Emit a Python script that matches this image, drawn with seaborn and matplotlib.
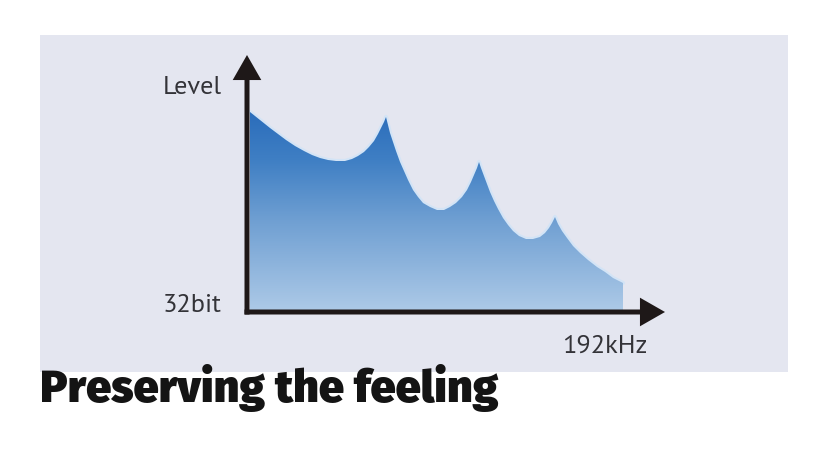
import numpy as np
import pandas as pd
import matplotlib
matplotlib.use("Agg")
import matplotlib.pyplot as plt
import seaborn as sns
from matplotlib.patches import Polygon, Rectangle
from matplotlib.colors import LinearSegmentedColormap

# ---- data (frequency position, level) ----
freq = [3, 8, 13, 18, 23, 31, 39, 48, 57, 65, 73, 81, 89, 98, 105, 111, 117, 122, 127, 131, 134, 137, 139,
        141, 143, 146, 149, 153, 157, 161, 166, 171, 176, 183, 190, 197, 203, 209, 215, 220, 224, 227, 230, 232,
        234, 237, 240, 243, 247, 251, 256, 261, 266, 272, 279, 286, 293, 298, 302, 305, 308,
        311, 315, 320, 326, 333, 341, 350, 358, 366, 376]
level = [198, 194, 190, 186, 182, 176, 170, 164, 159, 155, 152, 150, 149, 149, 151, 154, 158, 163, 169, 176, 182, 188, 193,
         185, 177, 168, 159, 148, 139, 130, 120, 113, 107, 103, 100, 100, 103, 107, 113, 120, 128, 135, 142, 148,
         142, 134, 126, 118, 109, 101, 92, 85, 79, 74, 71, 71, 73, 77, 82, 87, 93,
         86, 79, 72, 64, 57, 50, 43, 38, 32, 27]
y_label_top = "Level"
y_label_bottom = "32bit"
x_label_end = "192kHz"
title = "Preserving the feeling"

df = pd.DataFrame({"freq": freq, "level": level})

sns.set_theme(style="white")
plt.rcParams["font.family"] = ["PT Sans", "DejaVu Sans"]

fig = plt.figure(figsize=(8.28, 4.54), dpi=100)
fig.patch.set_facecolor("white")

# panel background
fig.patches.append(Rectangle((40 / 828, (454 - 372) / 454), 748 / 828, 337 / 454,
                             transform=fig.transFigure, facecolor="#e4e6f0",
                             edgecolor="none", zorder=-5))

ax = fig.add_axes([0, 0, 1, 1])
ax.set_facecolor("none")
ax.patch.set_alpha(0)
ax.axis("off")

# filled area with vertical gradient
xs = df["freq"].to_numpy()
ys = df["level"].to_numpy()
verts = [(xs[0], 0)] + list(zip(xs, ys)) + [(xs[-1], 0)]
poly = Polygon(verts, closed=True, facecolor="none", edgecolor="none")
ax.add_patch(poly)

# light halo around the curve
sns.lineplot(data=df, x="freq", y="level", ax=ax, color="#d3e4f6", lw=3.0,
             estimator=None, sort=False, zorder=2, legend=False)

cmap = LinearSegmentedColormap.from_list(
    "blues", [(0.0, "#acc9e7"), (0.45, "#6f9fd2"), (0.75, "#3f7fc4"), (1.0, "#2a6cba")])
grad = np.linspace(1, 0, 256).reshape(-1, 1)
grad = np.repeat(grad, 2, axis=1)
im = ax.imshow(grad, cmap=cmap, extent=[xs[0], xs[-1], 0, 200],
               aspect="auto", origin="upper", zorder=3, interpolation="bicubic")
im.set_clip_path(poly)

# axes with arrows
axis_col = "#1e1818"
lw = 3.6
arrow_style = "-|>,head_length=1.05,head_width=0.6"
ax.annotate("", xy=(0, 255), xytext=(0, -4.5),
            arrowprops=dict(arrowstyle=arrow_style, lw=lw, color=axis_col,
                            mutation_scale=12, shrinkA=0, shrinkB=0,
                            joinstyle="miter", capstyle="butt"), zorder=5)
ax.annotate("", xy=(418, -2), xytext=(-2.5, -2),
            arrowprops=dict(arrowstyle=arrow_style, lw=lw, color=axis_col,
                            mutation_scale=12, shrinkA=0, shrinkB=0,
                            joinstyle="miter", capstyle="butt"), zorder=5)

txt_col = "#333338"
ax.text(-25, 223, y_label_top, ha="right", va="center", fontsize=19, color=txt_col)
ax.text(-25, 4, y_label_bottom, ha="right", va="center", fontsize=19, color=txt_col)
ax.text(358, -36, x_label_end, ha="center", va="center", fontsize=19, color=txt_col)

fig.text(40 / 828, 1 - 402 / 454, title, ha="left", va="baseline",
         fontsize=32.5, fontweight="black", color="#141414",
         family=["Fira Sans", "Open Sans", "DejaVu Sans"])

ax.set_xlim(-247, 581)
ax.set_ylim(-144, 310)

fig.savefig("out.png", dpi=100, facecolor="white")
